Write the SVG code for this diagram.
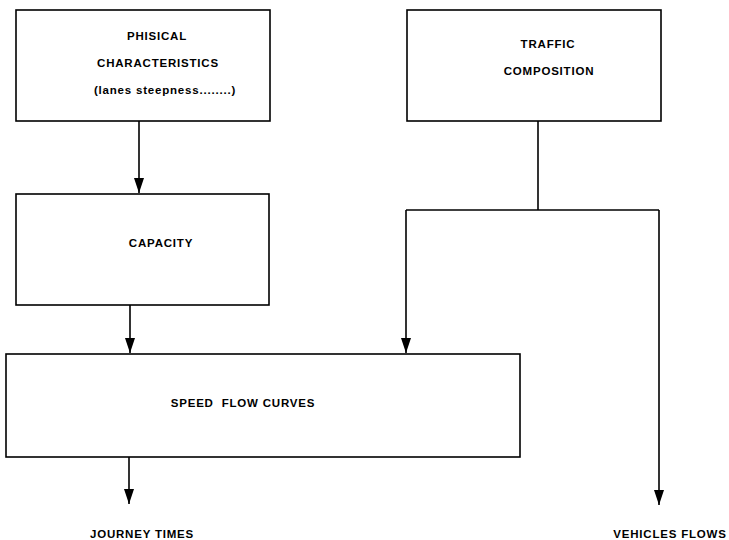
<svg xmlns="http://www.w3.org/2000/svg" width="729" height="540" viewBox="0 0 729 540">
<style>
.box{fill:#fff;stroke:#000;stroke-width:1.6}
.t{font-family:"Liberation Sans",Arial,sans-serif;font-weight:bold;font-size:11.5px;letter-spacing:0.8px;fill:#000;text-anchor:middle}
.c{fill:none;stroke:#000;stroke-width:1.6}
</style>
<defs>
<marker id="ah" markerUnits="userSpaceOnUse" markerWidth="16" markerHeight="12" refX="15" refY="5" orient="auto">
<path d="M0,0 L15,5 L0,10 Z" fill="#000"/>
</marker>
</defs>
<rect width="729" height="540" fill="#fff"/>
<g id="connectors">
<line class="c" x1="139" y1="121" x2="139" y2="193" marker-end="url(#ah)"/>
<line class="c" x1="130" y1="305" x2="130" y2="353" marker-end="url(#ah)"/>
<line class="c" x1="129" y1="457" x2="129" y2="504" marker-end="url(#ah)"/>
<polyline class="c" points="538,121 538,210"/>
<polyline class="c" points="406,210 659,210"/>
<line class="c" x1="406" y1="210" x2="406" y2="353" marker-end="url(#ah)"/>
<line class="c" x1="659" y1="210" x2="659" y2="505" marker-end="url(#ah)"/>
</g>
<g id="physical">
<rect class="box" x="16" y="10" width="254" height="111"/>
<text class="t" x="157" y="40">PHISICAL</text>
<text class="t" x="158" y="67">CHARACTERISTICS</text>
<text class="t" x="165" y="94">(lanes steepness........)</text>
</g>
<g id="traffic">
<rect class="box" x="407" y="10" width="254" height="111"/>
<text class="t" x="548" y="48">TRAFFIC</text>
<text class="t" x="549" y="75">COMPOSITION</text>
</g>
<g id="capacity">
<rect class="box" x="16" y="194" width="253" height="111"/>
<text class="t" x="161" y="247">CAPACITY</text>
</g>
<g id="speed">
<rect class="box" x="6" y="354" width="514" height="103"/>
<text class="t" x="243" y="407" xml:space="preserve">SPEED  FLOW CURVES</text>
</g>
<g id="journey">
<text class="t" x="142" y="538">JOURNEY TIMES</text>
</g>
<g id="vehicles">
<text class="t" x="670" y="538">VEHICLES FLOWS</text>
</g>
</svg>
